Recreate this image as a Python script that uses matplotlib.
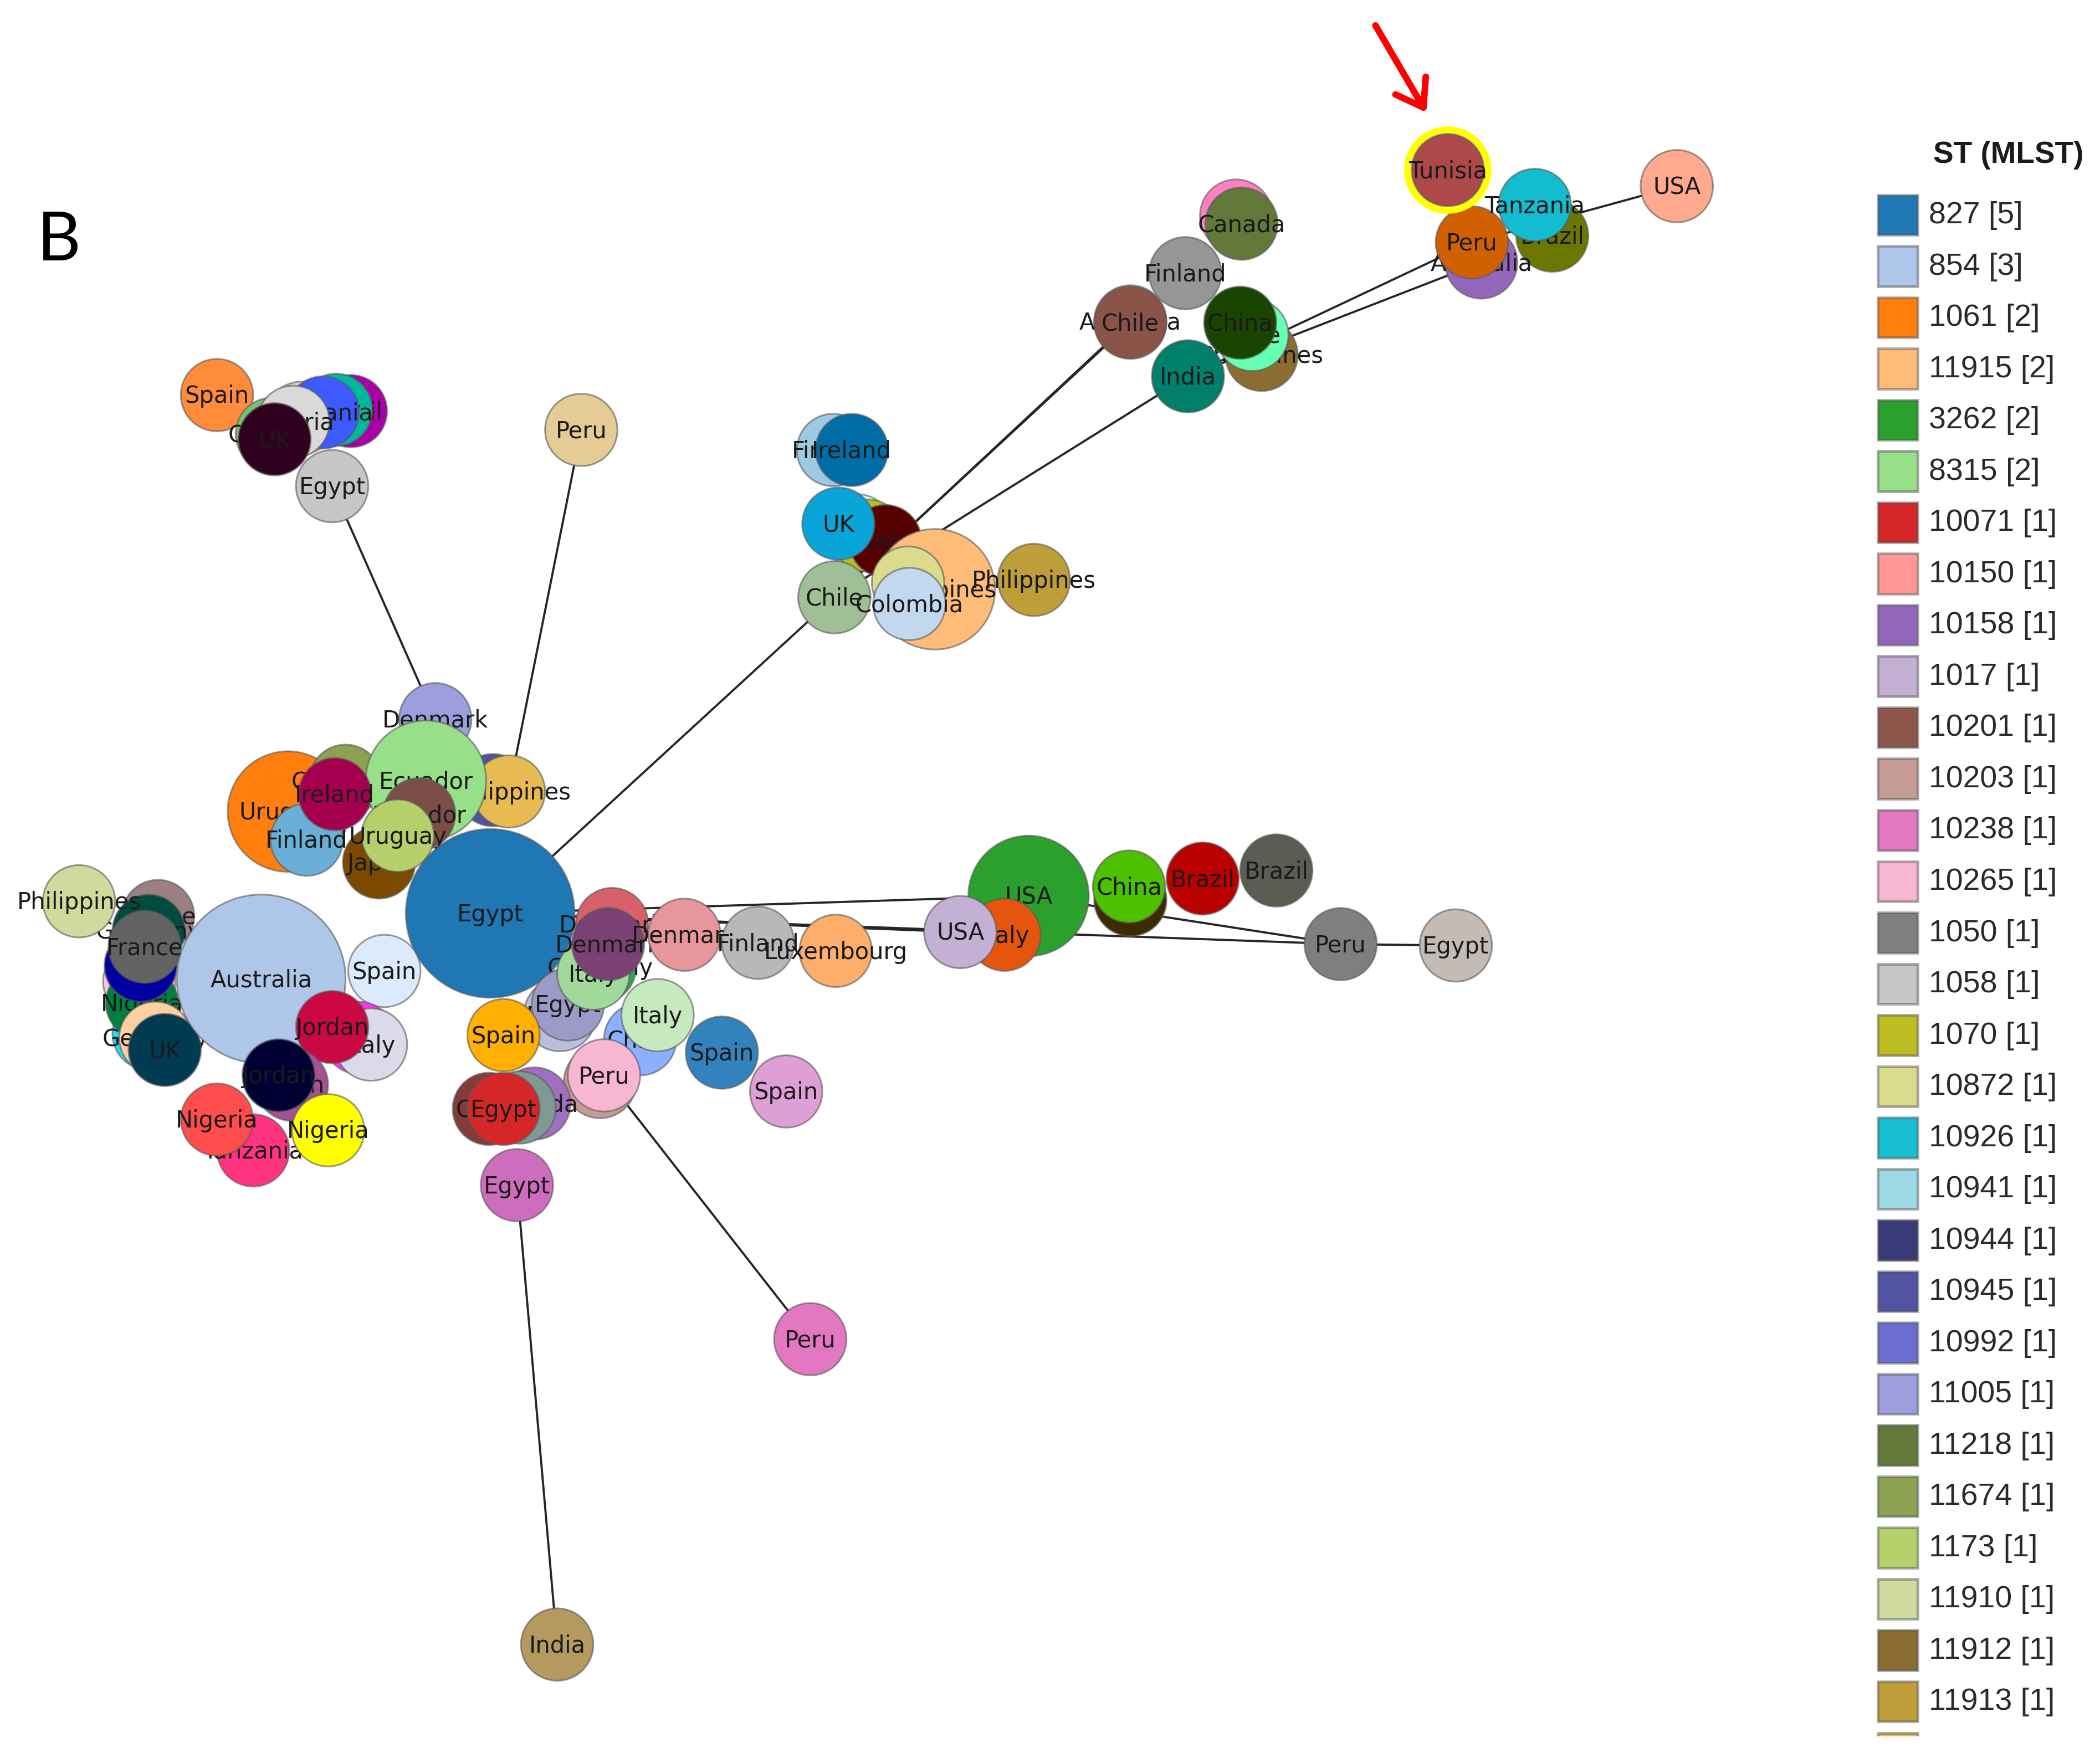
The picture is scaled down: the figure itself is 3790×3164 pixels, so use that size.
import matplotlib.pyplot as plt
from matplotlib.patches import Circle, Rectangle

# legend
st_names = ['827 [5]', '854 [3]', '1061 [2]', '11915 [2]', '3262 [2]', '8315 [2]', '10071 [1]', '10150 [1]',
            '10158 [1]', '1017 [1]', '10201 [1]', '10203 [1]', '10238 [1]', '10265 [1]', '1050 [1]', '1058 [1]',
            '1070 [1]', '10872 [1]', '10926 [1]', '10941 [1]', '10944 [1]', '10945 [1]', '10992 [1]', '11005 [1]',
            '11218 [1]', '11674 [1]', '1173 [1]', '11910 [1]', '11912 [1]', '11913 [1]', '']
st_colors = ['#1f77b4', '#aec7e8', '#ff7f0e', '#ffbb78', '#2ca02c', '#98df8a', '#d62728', '#ff9896',
             '#9467bd', '#c5b0d5', '#8c564b', '#c49c94', '#e377c2', '#f7b6d2', '#7f7f7f', '#c7c7c7',
             '#bcbd22', '#dbdb8d', '#17becf', '#9edae5', '#393b79', '#5254a3', '#6b6ecf', '#9c9ede',
             '#637939', '#8ca252', '#b5cf6b', '#cedb9c', '#8c6d31', '#bd9e39', '#e7ba52']

# nodes, in drawing order (later ones sit on top)
node_labels = ['Spain', 'Brazil', 'Italy', '', 'Tanzania', 'Canada', 'Nigeria', 'UK', 'Egypt', 'Peru',
               'Denmark', 'Uruguay', 'Japan', 'Colombia', 'Italy', 'Philippines', 'Ecuador', 'Ecuador', 'Finland', 'Ireland',
               'Uruguay', 'Egypt', 'France', 'Germany', '', '', 'Nigeria', 'Italy', 'France', 'Germany',
               'UK', 'Philippines', 'Australia', 'Spain', '', 'Italy', 'Jordan', 'Japan', 'Jordan', 'Tanzania',
               'Nigeria', 'Nigeria', 'Denmark', 'Germany', 'Egypt', 'Egypt', 'Italy', 'Denmark', 'Denmark', 'Finland',
               'Luxembourg', 'USA', 'China', 'China', 'Italy', 'USA', 'Brazil', 'Brazil', 'Peru', 'Egypt',
               'China', 'Italy', 'Spain', 'Spain', 'Peru', 'Peru', 'Spain', 'Canada', '', 'China',
               'Egypt', 'Egypt', 'Peru', 'India', 'Finland', 'Ireland', '', '', 'Italy', 'UK',
               'Philippines', '', 'Chile', 'Colombia', 'Philippines', 'Brazil', 'Australia', 'Peru', 'Tanzania', 'Tunisia',
               'USA', '', 'Canada', 'Finland', 'Australia', 'Chile', 'Philippines', 'Chile', 'China', 'India']
node_x = [162, 262, 251, 225, 241, 203, 219, 205, 248, 434,
          325, 215, 283, 258, 368, 380, 318, 313, 229, 250,
          297, 366, 118, 111, 104, 111, 106, 105, 108, 116,
          123, 59, 195, 287, 268, 277, 248, 218, 208, 189,
          162, 245, 457, 448, 418, 424, 443, 454, 511, 566,
          624, 768, 844, 843, 750, 717, 898, 953, 1001, 1087,
          478, 491, 539, 587, 448, 451, 376, 399, 388, 365,
          376, 386, 605, 416, 622, 636, 640, 648, 661, 626,
          698, 678, 623, 679, 772, 1159, 1106, 1099, 1146, 1081,
          1252, 923, 927, 885, 844, 844, 942, 935, 926, 887]
node_y = [295, 307, 306, 312, 308, 324, 315, 328, 363, 321,
          537, 606, 644, 583, 590, 591, 583, 608, 627, 593,
          624, 682, 684, 695, 733, 772, 749, 721, 707, 775,
          784, 673, 731, 725, 775, 780, 767, 810, 803, 859,
          836, 844, 690, 722, 758, 750, 727, 705, 698, 704,
          710, 669, 672, 662, 698, 696, 656, 650, 705, 706,
          776, 758, 786, 815, 808, 803, 773, 824, 827, 828,
          828, 885, 1000, 1228, 336, 336, 396, 400, 404, 391,
          440, 435, 446, 451, 433, 176, 196, 181, 153, 127,
          139, 161, 167, 204, 240, 241, 265, 250, 241, 281]
node_counts = [1, 1, 1, 1, 1, 1, 1, 1, 1, 1,
               1, 2, 1, 1, 1, 1, 2, 1, 1, 1,
               1, 5, 1, 1, 1, 1, 1, 1, 1, 1,
               1, 1, 3, 1, 1, 1, 1, 1, 1, 1,
               1, 1, 1, 1, 1, 1, 1, 1, 1, 1,
               1, 2, 1, 1, 1, 1, 1, 1, 1, 1,
               1, 1, 1, 1, 1, 1, 1, 1, 1, 1,
               1, 1, 1, 1, 1, 1, 1, 1, 1, 1,
               2, 1, 1, 1, 1, 1, 1, 1, 1, 1,
               1, 1, 1, 1, 1, 1, 1, 1, 1, 1]
node_colors = ['#ff8c3a', '#aa00aa', '#00b89c', '#d5dcc0', '#3d5afe', '#74c476', '#d9d9d9', '#30001f', '#c7c7c7', '#e5cb94',
               '#9c9ede', '#ff7f0e', '#7b4900', '#8ca252', '#5254a3', '#e7ba52', '#98df8a', '#7b4f47', '#6baed6', '#a50050',
               '#b5cf6b', '#1f77b4', '#9c7f85', '#004d40', '#f7c6e0', '#1fdcff', '#008040', '#0000a0', '#636363', '#fdd0a2',
               '#003b52', '#cedb9c', '#aec7e8', '#dcebfb', '#ff33ff', '#dadaeb', '#cc0844', '#a55194', '#000033', '#ff3380',
               '#ff4d4d', '#ffff00', '#d6616b', '#31a354', '#bcbddc', '#9e9ac8', '#a1d99b', '#7b4173', '#e7969c', '#b8b8b8',
               '#fdae6b', '#2ca02c', '#3d2b00', '#4dc000', '#e6550d', '#c5b0d5', '#bb0000', '#5c5c54', '#7f7f7f', '#c4bcb4',
               '#8ab0ff', '#c7e9c0', '#3182bd', '#de9ed6', '#c49c94', '#f7b6d2', '#ffb000', '#a070c0', '#7f9a95', '#843c39',
               '#d62728', '#ce6dbd', '#e377c2', '#b59a5f', '#9ecae1', '#006ea6', '#ccffee', '#bcbd22', '#560000', '#09a5d9',
               '#ffbb78', '#dbdb8d', '#a0bf96', '#c2d8ef', '#bd9e39', '#6b7700', '#9467bd', '#d16000', '#14bccf', '#ad494a',
               '#ffa98f', '#ff80c0', '#637939', '#969696', '#e67a7a', '#8a5449', '#8c6d31', '#66ffb3', '#1a4500', '#00806b']

# links between nodes (indexes into the lists above)
edge_from = [8, 9, 21, 82, 82, 82, 99, 99, 87, 65, 71, 21, 21, 21, 51, 58]
edge_to = [10, 15, 82, 95, 94, 99, 87, 86, 90, 72, 73, 51, 58, 55, 58, 59]

highlight = 89
radius = {1: 27, 2: 45, 3: 63, 5: 63}

W, H = 1568, 1309
fig = plt.figure(figsize=(37.9, 31.64), dpi=100)
ax = fig.add_axes([0, 0, 1, 1])
ax.set_xlim(0, W)
ax.set_ylim(H, 0)
ax.axis('off')

for a, b in zip(edge_from, edge_to):
    ax.plot([node_x[a], node_x[b]], [node_y[a], node_y[b]], color='#262626', lw=2.8, zorder=1)

z = 2
for i in range(len(node_labels)):
    r = radius[node_counts[i]]
    if i == highlight:
        ax.add_patch(Circle((node_x[i], node_y[i]), 30, fc='none', ec='#ffff00', lw=9, zorder=z))
    ax.add_patch(Circle((node_x[i], node_y[i]), r, fc=node_colors[i], ec=(0.35, 0.35, 0.35, 0.6), lw=2.2, zorder=z))
    ax.text(node_x[i], node_y[i] + 1, node_labels[i], ha='center', va='center', fontsize=30,
            family='DejaVu Sans', color='#1a1a1a', zorder=z + 0.5)
    z += 1

# panel letter and arrow
ax.text(44, 180, 'B', fontsize=88, family='Lato', ha='center', va='center', color='black')
ax.annotate('', xy=(1065, 84), xytext=(1027, 19), zorder=z,
            arrowprops=dict(arrowstyle='->,head_length=0.55,head_width=0.38', color='#ff0000', lw=8.5,
                            mutation_scale=60, shrinkA=0, shrinkB=0))

# legend, last row runs off the bottom
ax.text(1499.5, 116, 'ST (MLST)', fontsize=39.5, family='Liberation Sans', fontweight='bold', ha='center', va='center',
        color='#1a1a1a')
clip = Rectangle((1380, 130), 188, 1166.5, transform=ax.transData)
for i, (name, col) in enumerate(zip(st_names, st_colors)):
    y = 160.5 + i * 38.28
    sw = Rectangle((1402, y - 15), 30, 30, fc=col, ec=(0.3, 0.3, 0.3, 0.45), lw=3.5)
    ax.add_patch(sw)
    sw.set_clip_path(clip)
    ax.text(1440, y + 0.5, name, fontsize=40, family='Liberation Sans', ha='left', va='center', color='#2a2a2a')

fig.savefig('out.png', dpi=100, facecolor='white')
